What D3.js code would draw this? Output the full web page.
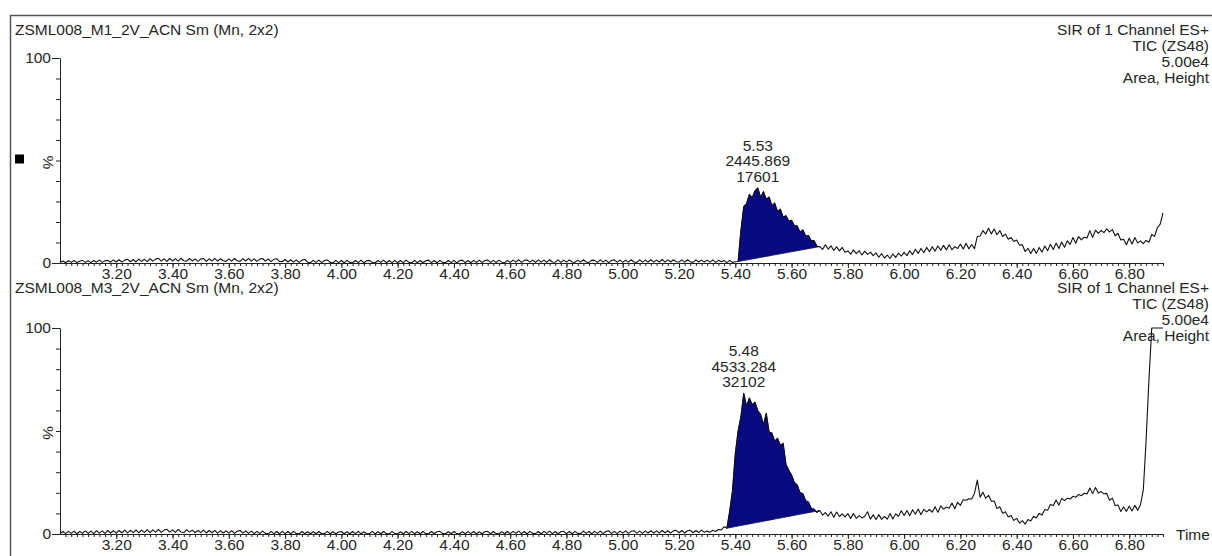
<!DOCTYPE html>
<html><head><meta charset="utf-8">
<script src="https://cdn.jsdelivr.net/npm/d3@7"></script>
<style>
body{margin:0;background:#fff}
svg{display:block}
text{font-family:"Liberation Sans",Arial,sans-serif;font-size:15.5px;fill:#262626}
</style>
</head><body>
<svg id="c" width="1212" height="556"></svg>
<script>
// ---------------- DATA ----------------
const timeStart = 3.00;
const timeStep = 0.01;
const timeEnd = 6.92;
const xTickLabels = ["3.20","3.40","3.60","3.80","4.00","4.20","4.40","4.60","4.80","5.00","5.20","5.40","5.60","5.80","6.00","6.20","6.40","6.60","6.80"];
const yTickValues = [0,10,20,30,40,50,60,70,80,90,100];
const titles = ["ZSML008_M1_2V_ACN Sm (Mn, 2x2)", "ZSML008_M3_2V_ACN Sm (Mn, 2x2)"];
const infoLines = ["SIR of 1 Channel ES+", "TIC (ZS48)", "5.00e4", "Area, Height"];
const peakLabelsM1 = ["5.53", "2445.869", "17601"];
const peakLabelsM3 = ["5.48", "4533.284", "32102"];
const peakRangeM1 = [5.41, 5.70];
const peakRangeM3 = [5.37, 5.70];

// % intensity, one value per 0.01 min from 3.00 to 6.92
const seriesM1 = [
0.2,1.0,0.1,1.1,0.3,1.2,0.2,0.9,1.3,0.3,
1.1,0.2,1.2,0.4,1.4,0.3,1.1,1.3,0.4,1.5,
0.5,1.6,0.4,1.4,1.8,0.6,1.7,0.5,1.9,0.8,
1.8,0.7,2.1,0.9,1.9,2.3,0.9,2.0,0.8,2.2,
1.0,2.1,0.9,2.3,1.1,0.9,2.2,1.0,2.0,0.8,
1.9,2.2,0.8,2.0,1.0,2.3,0.9,2.1,1.1,0.8,
2.0,0.9,2.2,1.1,0.8,2.1,1.0,2.3,0.9,2.0,
0.8,1.9,2.2,0.9,2.0,0.7,1.8,2.1,0.8,0.6,
1.7,0.5,1.6,0.4,1.5,0.3,1.4,1.7,0.4,0.2,
1.3,0.3,1.4,0.2,1.2,1.5,0.3,0.1,1.3,0.2,
1.2,0.1,1.3,0.3,0.1,1.2,0.2,1.4,0.1,1.1,
1.3,0.2,0.1,1.2,0.3,1.4,0.1,1.2,0.2,1.3,
0.1,1.2,0.2,1.4,0.3,0.1,1.3,0.2,1.2,0.1,
1.1,1.4,0.2,1.2,0.1,1.3,0.3,0.1,1.2,0.2,
1.3,0.1,1.1,1.4,0.2,1.2,0.1,1.3,0.3,1.4,
0.2,1.2,1.5,0.3,1.3,0.2,1.4,0.4,0.1,1.3,
0.3,1.4,0.4,1.6,0.3,1.3,1.5,0.4,1.4,0.3,
1.5,0.4,1.4,0.3,1.6,0.5,0.4,1.5,0.3,1.4,
0.4,1.5,0.5,0.3,1.4,0.4,1.6,0.5,0.3,1.4,
1.3,0.3,1.5,0.4,1.4,0.2,1.3,1.5,0.4,1.4,
0.3,1.4,0.4,1.6,0.5,0.3,1.5,0.4,1.4,0.5,
1.6,0.4,1.4,0.5,1.7,0.4,1.5,0.5,1.6,0.6,
0.5,1.5,0.4,1.6,0.6,0.3,1.5,0.5,1.4,0.4,
1.4,0.4,1.5,0.3,1.3,0.6,1.2,0.2,1.3,0.3,
0.6,0.7,16.0,27.5,29.0,33.5,31.8,35.2,36.6,32.0,
34.8,31.0,32.2,28.0,29.2,25.0,26.3,22.4,23.1,20.6,
20.8,18.2,18.1,15.0,16.2,13.2,13.4,10.8,10.9,8.2,
8.0,6.6,8.9,6.8,8.4,6.1,7.9,5.9,7.6,5.2,
5.9,4.3,6.4,4.6,6.0,3.9,5.8,4.2,5.3,3.6,
4.9,2.8,4.6,2.4,3.9,2.2,4.4,2.7,4.8,3.4,
5.2,3.6,6.0,4.1,6.7,4.7,7.1,5.0,7.6,5.5,
7.9,5.8,8.3,6.2,8.6,6.4,8.9,6.5,8.0,7.1,
9.2,6.8,9.6,6.9,9.0,7.0,12.9,13.2,15.8,14.1,
17.0,14.2,16.6,13.8,15.8,12.9,14.1,11.6,12.4,10.5,
11.2,8.7,8.9,5.6,7.2,4.6,7.1,4.7,7.6,5.3,
8.3,6.0,9.2,6.6,9.7,7.1,10.2,7.7,10.8,9.1,
12.4,9.6,12.9,11.3,12.6,12.2,15.8,12.5,16.0,14.4,
15.9,14.8,16.7,15.2,16.3,13.3,14.5,11.2,11.6,8.9,
12.1,9.3,12.4,9.8,10.8,9.4,11.0,10.1,13.9,13.0,
17.2,19.0,24.5
];

const seriesM3 = [
0.1,1.2,0.2,1.3,0.3,1.4,0.1,1.2,0.3,1.5,
0.3,1.4,0.2,1.6,0.4,1.5,0.3,1.7,0.5,1.6,
0.4,1.7,0.6,1.9,0.5,1.8,0.7,2.0,0.6,1.9,
0.8,2.1,0.7,2.0,0.9,2.2,0.8,1.9,2.3,0.9,
2.0,0.8,2.2,1.0,0.7,2.1,0.9,1.9,0.6,1.8,
0.7,1.9,0.5,1.7,0.6,1.8,0.4,1.6,0.5,1.5,
0.4,1.6,0.3,1.4,1.7,0.4,1.5,0.3,1.4,0.2,
1.3,0.2,1.4,0.3,0.1,1.3,0.2,1.2,0.1,1.3,
0.2,1.2,0.1,1.3,0.2,0.1,1.2,0.1,1.1,0.1,
1.1,0.1,1.2,0.1,0.2,1.3,0.1,1.1,0.1,1.0,
1.2,0.1,1.1,0.1,1.2,0.2,1.3,0.1,1.1,0.1,
0.2,1.3,0.1,1.1,0.1,1.2,0.2,0.1,1.3,0.2,
0.1,1.1,0.1,1.2,0.2,1.3,0.1,1.1,0.1,1.2,
0.2,0.1,1.2,0.1,1.1,1.3,0.2,0.1,1.1,0.1,
1.2,0.2,0.1,1.1,0.1,1.3,0.2,1.2,0.1,1.1,
0.1,1.1,1.3,0.1,1.2,0.2,0.1,1.1,0.1,1.2,
0.2,1.3,0.3,1.4,0.2,1.2,0.1,1.3,0.3,0.2,
1.2,0.1,1.3,0.3,1.4,0.2,1.2,0.1,1.1,1.3,
0.2,1.2,0.1,1.3,0.3,0.2,1.4,0.3,1.2,0.1,
1.3,0.3,1.4,0.2,1.2,1.5,0.3,1.3,0.2,1.4,
0.4,1.5,0.3,1.3,1.6,0.4,1.4,0.3,1.5,0.5,
1.6,0.5,1.5,0.4,1.7,0.6,1.6,0.5,1.5,1.8,
0.6,1.7,0.5,1.6,1.8,0.6,1.7,0.7,1.9,0.8,
1.4,0.9,1.8,1.2,2.2,2.0,3.5,2.8,11.0,21.0,
39.0,50.0,57.0,68.3,62.0,66.0,62.8,64.0,59.8,58.0,
53.0,58.6,49.5,49.0,45.0,46.5,43.0,44.0,33.8,31.0,
28.5,25.0,23.8,20.0,19.6,16.2,15.5,12.4,12.0,10.5,
11.4,9.2,10.4,8.6,10.8,8.1,10.7,8.5,9.8,8.3,
9.9,7.5,9.9,7.6,8.9,7.8,8.6,10.8,7.2,9.3,
7.0,9.4,7.1,8.5,7.2,9.9,7.3,9.8,8.6,11.3,
9.0,11.4,8.9,11.8,9.6,12.1,9.4,12.0,10.7,11.9,
10.6,13.2,10.5,13.6,12.1,13.1,12.5,15.0,12.3,15.4,
13.9,16.6,16.4,17.1,17.0,19.7,26.2,17.9,20.3,17.4,
18.8,15.9,16.0,12.3,13.2,10.1,10.8,8.3,9.0,6.6,
7.6,5.3,6.5,4.8,7.0,6.3,8.6,7.8,10.0,9.2,
11.9,11.5,14.3,13.8,16.5,14.0,17.3,16.2,17.4,17.0,
18.3,17.8,19.2,18.6,19.8,19.4,22.3,19.6,22.6,19.9,
20.6,19.5,19.7,16.4,17.4,13.8,14.1,10.9,13.1,11.0,
13.5,11.2,13.9,11.5,14.2,21.4,45.6,74.8,100,100,
100,100,100
];

// ---------------- DRAW ----------------
const FONT = '"Liberation Sans",Arial,sans-serif';
const svg = d3.select("#c");
const x = d3.scaleLinear().domain([timeStart, timeEnd]).range([60, 1163]);

// frame
svg.append("line").attr("x1",10).attr("x2",1212).attr("y1",15.5).attr("y2",15.5).attr("stroke","#555").attr("stroke-width",1.5);
svg.append("line").attr("x1",10.5).attr("x2",10.5).attr("y1",15).attr("y2",556).attr("stroke","#555").attr("stroke-width",1.5);

const panels = [
  {series: seriesM1, range: peakRangeM1, labels: peakLabelsM1, title: titles[0], yTop: 58, yBot: 263, titleY: 35, marker: true, time: false},
  {series: seriesM3, range: peakRangeM3, labels: peakLabelsM3, title: titles[1], yTop: 328, yBot: 534, titleY: 293, marker: false, time: true}
];

const minorTicks = d3.range(1, Math.round((timeEnd - timeStart) / 0.02) + 1).map(i => +(timeStart + i * 0.02).toFixed(2));
const majorTicks = xTickLabels.map(Number);

panels.forEach(p => {
  const y = d3.scaleLinear().domain([0, 100]).range([p.yBot, p.yTop]);
  const pts = p.series.map((v, i) => ({t: +(timeStart + i * timeStep).toFixed(2), v: v}));
  const g = svg.append("g");

  // title & info
  g.append("text").attr("x", 15).attr("y", p.titleY).text(p.title);
  infoLines.forEach((s, k) => {
    g.append("text").attr("x", 1209).attr("y", p.titleY + 16 * k).attr("text-anchor", "end").text(s);
  });

  // peak fill with straight baseline
  const inPeak = pts.filter(d => d.t >= p.range[0] - 1e-9 && d.t <= p.range[1] + 1e-9);
  const a = inPeak[0], b = inPeak[inPeak.length - 1];
  const base = t => a.v + (b.v - a.v) * (t - a.t) / (b.t - a.t);
  const area = d3.area().x(d => x(d.t)).y0(d => y(base(d.t))).y1(d => y(d.v));
  g.append("path").datum(inPeak).attr("d", area).attr("fill", "#0a0a80").attr("stroke", "#0a0a80").attr("stroke-width", 0.8);

  // trace
  const line = d3.line().x(d => x(d.t)).y(d => y(Math.min(100, d.v)));
  g.append("path").datum(pts).attr("d", line).attr("fill", "none").attr("stroke", "#111").attr("stroke-width", 1.1).attr("stroke-linejoin", "round");

  // apex labels
  const apex = inPeak.reduce((m, d) => d.v > m.v ? d : m, inPeak[0]);
  p.labels.forEach((s, k) => {
    g.append("text").attr("x", x(apex.t)).attr("y", y(apex.v) - 6 - 15.5 * (2 - k)).attr("text-anchor", "middle").text(s);
  });

  // x axis: minor then major ticks
  const xMinor = d3.axisBottom(x).tickValues(minorTicks).tickSize(3).tickSizeOuter(0).tickFormat("");
  const gx1 = g.append("g").attr("transform", `translate(0,${p.yBot})`).call(xMinor);
  gx1.selectAll(".tick text").remove();
  const xMajor = d3.axisBottom(x).tickValues(majorTicks).tickSize(5).tickSizeOuter(0).tickPadding(0).tickFormat((d, i) => xTickLabels[i]);
  const gx2 = g.append("g").attr("transform", `translate(0,${p.yBot})`).call(xMajor);
  [gx1, gx2].forEach(ax => {
    ax.select(".domain").attr("stroke", "#222");
    ax.selectAll(".tick line").attr("stroke", "#222");
    ax.selectAll("text").style("font-family", FONT).style("font-size", "15.5px").attr("fill", "#262626");
  });

  // y axis
  const yAx = d3.axisLeft(y).tickValues(yTickValues).tickSize(4).tickSizeOuter(0).tickPadding(3)
    .tickFormat(d => (d === 0 || d === 100) ? String(d) : "");
  const gy = g.append("g").attr("transform", `translate(60,0)`).call(yAx);
  gy.select(".domain").attr("stroke", "#222");
  gy.selectAll(".tick line").attr("stroke", "#222").attr("x2", d => (d === 0 || d === 100) ? -8 : -4);
  gy.selectAll(".tick text").filter(d => !(d === 0 || d === 100)).remove();
  gy.selectAll(".tick text").attr("x", -9).style("font-family", FONT).style("font-size", "15.5px").attr("fill", "#262626");

  // % label
  const midY = y(50);
  g.append("text").attr("transform", `translate(43,${midY + 2}) rotate(90)`).attr("text-anchor", "middle").text("%");

  if (p.marker) g.append("rect").attr("x", 15).attr("y", midY - 6).attr("width", 9).attr("height", 9).attr("fill", "#000");
  if (p.time) g.append("text").attr("x", 1176).attr("y", p.yBot + 6).text("Time");
});
</script>
</body></html>
